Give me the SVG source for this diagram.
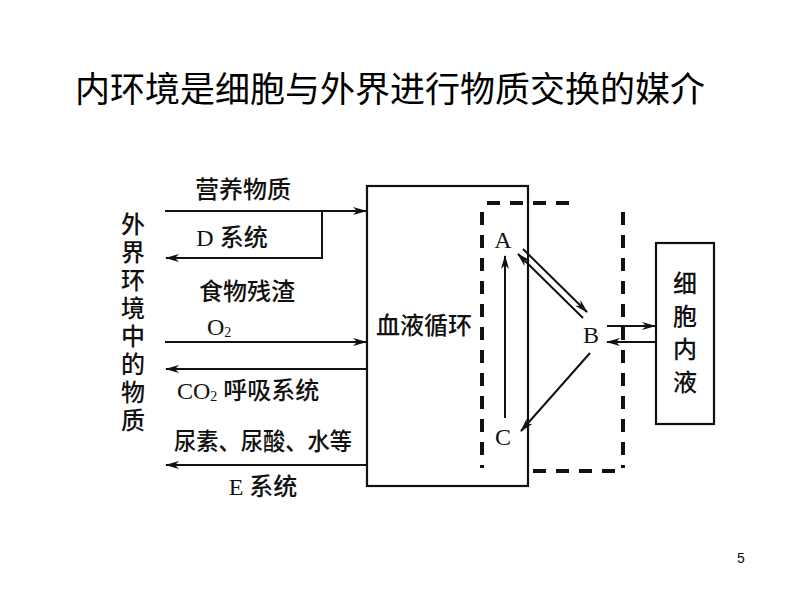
<svg xmlns="http://www.w3.org/2000/svg" width="794" height="596" viewBox="0 0 794 596">
<style>
.t{font-family:"Liberation Serif","Noto Sans CJK SC",serif;fill:#111;font-size:24px;font-weight:500}
.ttl{font-family:"Liberation Sans","Noto Sans CJK SC",sans-serif;fill:#000;font-size:35px}
.ln{stroke:#111;stroke-width:2;fill:none}
.bx{stroke:#111;stroke-width:2.2;fill:#fff}
.dash{stroke:#111;stroke-width:4;fill:none;stroke-dasharray:13 10}
</style>
<defs>
<marker id="ah" viewBox="0 0 14 8" refX="13" refY="4" markerWidth="14" markerHeight="8" markerUnits="userSpaceOnUse" orient="auto">
<path d="M0,0 L14,4 L0,8 L4,4 z" fill="#111"/>
</marker>
</defs>
<rect width="794" height="596" fill="#fff"/>
<text class="ttl" x="75" y="102">内环境是细胞与外界进行物质交换的媒介</text>

<g id="env">
<text class="t" x="133" y="233" text-anchor="middle">外</text>
<text class="t" x="133" y="261" text-anchor="middle">界</text>
<text class="t" x="133" y="289" text-anchor="middle">环</text>
<text class="t" x="133" y="317" text-anchor="middle">境</text>
<text class="t" x="133" y="345" text-anchor="middle">中</text>
<text class="t" x="133" y="373" text-anchor="middle">的</text>
<text class="t" x="133" y="401" text-anchor="middle">物</text>
<text class="t" x="133" y="429" text-anchor="middle">质</text>
</g>

<g id="blood">
<rect class="bx" x="367" y="186" width="161" height="300"/>
<text class="t" x="424" y="334" text-anchor="middle" font-size="25">血液循环</text>
</g>

<g id="internal">
<line class="dash" x1="487" y1="203" x2="577" y2="203"/>
<line class="dash" x1="482" y1="212" x2="482" y2="468"/>
<line class="dash" x1="623" y1="212" x2="623" y2="468"/>
<line class="dash" x1="533" y1="471" x2="620" y2="471"/>
</g>

<g id="A"><text class="t" x="503" y="248" text-anchor="middle" font-size="22">A</text></g>
<g id="B"><text class="t" x="591" y="343" text-anchor="middle" font-size="22">B</text></g>
<g id="C"><text class="t" x="503" y="445" text-anchor="middle" font-size="22">C</text></g>

<g id="cell">
<rect class="bx" x="656" y="243" width="58" height="181"/>
<text class="t" x="685" y="292" text-anchor="middle" font-size="24">细</text>
<text class="t" x="685" y="325" text-anchor="middle" font-size="24">胞</text>
<text class="t" x="685" y="358" text-anchor="middle" font-size="24">内</text>
<text class="t" x="685" y="391" text-anchor="middle" font-size="24">液</text>
</g>

<g id="connectors">
<line class="ln" x1="165" y1="211" x2="366" y2="211" marker-end="url(#ah)"/>
<polyline class="ln" points="322,211 322,258 166,258" marker-end="url(#ah)"/>
<line class="ln" x1="165" y1="342" x2="366" y2="342" marker-end="url(#ah)"/>
<line class="ln" x1="367" y1="369" x2="166" y2="369" marker-end="url(#ah)"/>
<line class="ln" x1="367" y1="465" x2="166" y2="465" marker-end="url(#ah)"/>
<line class="ln" x1="505" y1="418" x2="505" y2="256" marker-end="url(#ah)"/>
<line class="ln" x1="523" y1="249" x2="587" y2="312" marker-end="url(#ah)"/>
<line class="ln" x1="583" y1="318" x2="518" y2="254" marker-end="url(#ah)"/>
<line class="ln" x1="590" y1="353" x2="521" y2="431" marker-end="url(#ah)"/>
<line class="ln" x1="607" y1="326" x2="655" y2="326" marker-end="url(#ah)"/>
<line class="ln" x1="656" y1="342" x2="607" y2="342" marker-end="url(#ah)"/>
</g>

<g id="labels">
<text class="t" x="243" y="198" text-anchor="middle">营养物质</text>
<text class="t" x="232" y="246" text-anchor="middle">D 系统</text>
<text class="t" x="247" y="300" text-anchor="middle">食物残渣</text>
<text class="t" x="207" y="335">O<tspan font-size="14" dy="2">2</tspan></text>
<text class="t" x="177" y="399">CO<tspan font-size="14" dy="2">2</tspan><tspan dy="-2"> 呼吸系统</tspan></text>
<text class="t" x="174" y="450" textLength="178" lengthAdjust="spacingAndGlyphs">尿素、尿酸、水等</text>
<text class="t" x="263" y="495" text-anchor="middle">E 系统</text>
</g>

<text x="741" y="563" text-anchor="middle" font-family="Liberation Sans, sans-serif" font-size="14" fill="#111">5</text>
</svg>
